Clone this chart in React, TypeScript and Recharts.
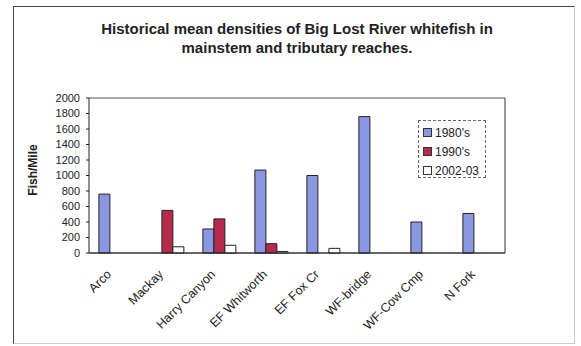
import { BarChart, Bar, XAxis, YAxis, CartesianGrid } from "recharts";

const reaches = [
    "Arco",
    "Mackay",
    "Harry Canyon",
    "EF Whitworth",
    "EF Fox Cr",
    "WF-bridge",
    "WF-Cow Cmp",
    "N Fork",
];
const s1980 = [760, 0, 310, 1070, 1000, 1760, 400, 510];
const s1990 = [0, 550, 440, 120, 0, 0, 0, 0];
const s2002 = [0, 80, 100, 20, 60, 0, 0, 0];
const yTicks = [0, 200, 400, 600, 800, 1000, 1200, 1400, 1600, 1800, 2000];

const SERIES = [
    { key: "s1980", name: "1980's", color: "#8a97e2" },
    { key: "s1990", name: "1990's", color: "#b62a4c" },
    { key: "s2002", name: "2002-03", color: "#ffffff" },
];

const FONT = "'Liberation Sans', Arial, sans-serif";

const data = reaches.map((r, i) => ({
    reach: r,
    s1980: s1980[i],
    s1990: s1990[i],
    s2002: s2002[i],
}));

function XTick({ x, y, payload }: any) {
    const ax = x - 3;
    const ay = y + 14;
    return (
        <text
            x={ax}
            y={ay}
            transform={`rotate(-45 ${ax} ${ay})`}
            textAnchor="end"
            fontSize={12.5}
            fontFamily={FONT}
            fill="#222"
        >
            {payload.value}
        </text>
    );
}

function LegendBox() {
    return (
        <div
            style={{
                position: "absolute",
                left: 418,
                top: 120,
                width: 68,
                height: 58,
                boxSizing: "border-box",
                border: "1px dashed #666",
                background: "#fff",
                padding: "2px 0 0 4px",
                fontFamily: FONT,
                fontSize: 12,
                color: "#222",
                whiteSpace: "nowrap",
            }}
        >
            {SERIES.map((s) => (
                <div
                    key={s.key}
                    style={{ display: "flex", alignItems: "center", height: 19 }}
                >
                    <span
                        style={{
                            display: "inline-block",
                            width: 7,
                            height: 7,
                            background: s.color,
                            border: "1px solid #333",
                            marginRight: 3,
                        }}
                    />
                    {s.name}
                </div>
            ))}
        </div>
    );
}

export default function App() {
    return (
        <div
            style={{
                position: "absolute",
                left: 0,
                top: 0,
                width: 581,
                height: 346,
                background: "#fff",
            }}
        >
            <div
                style={{
                    position: "absolute",
                    left: 13,
                    top: 6,
                    width: 560,
                    height: 336,
                    border: "1px solid #444",
                    borderBottomColor: "#ccc",
                    borderRightColor: "#ccc",
                }}
            />
            <div
                style={{
                    position: "absolute",
                    left: 0,
                    width: 594,
                    top: 19,
                    textAlign: "center",
                    fontFamily: FONT,
                    fontWeight: "bold",
                    fontSize: 15,
                    lineHeight: "19px",
                    color: "#222",
                }}
            >
                Historical mean densities of Big Lost River whitefish in
                <br />
                mainstem and tributary reaches.
            </div>
            <div
                style={{
                    position: "absolute",
                    left: 33,
                    top: 170,
                    transform: "translate(-50%, -50%) rotate(-90deg)",
                    fontFamily: FONT,
                    fontWeight: "bold",
                    fontSize: 12,
                    color: "#222",
                    whiteSpace: "nowrap",
                }}
            >
                Fish/Mile
            </div>
            <BarChart
                width={581}
                height={346}
                data={data}
                margin={{ top: 98, right: 0, bottom: 0, left: 0 }}
                barCategoryGap="19%"
                barGap={0}
                style={{ position: "absolute", left: 0, top: 0 }}
            >
                <CartesianGrid vertical={false} stroke="#555" />
                <XAxis
                    dataKey="reach"
                    tick={<XTick />}
                    tickLine={false}
                    axisLine={{ stroke: "#222" }}
                    interval={0}
                    height={93}
                />
                <YAxis
                    yAxisId="l"
                    width={89}
                    domain={[0, 2000]}
                    ticks={yTicks}
                    tickSize={3}
                    tickMargin={6}
                    tick={{ fontSize: 11, fontFamily: FONT, fill: "#222" }}
                    tickLine={{ stroke: "#222" }}
                    axisLine={{ stroke: "#222" }}
                    interval={0}
                />
                <YAxis
                    yAxisId="r"
                    orientation="right"
                    width={76}
                    domain={[0, 2000]}
                    tick={false}
                    tickLine={false}
                    axisLine={{ stroke: "#333" }}
                />
                {SERIES.map((s) => (
                    <Bar
                        key={s.key}
                        yAxisId="l"
                        dataKey={s.key}
                        name={s.name}
                        fill={s.color}
                        stroke="#222"
                        strokeWidth={1}
                        isAnimationActive={false}
                    />
                ))}
            </BarChart>
            <LegendBox />
        </div>
    );
}
